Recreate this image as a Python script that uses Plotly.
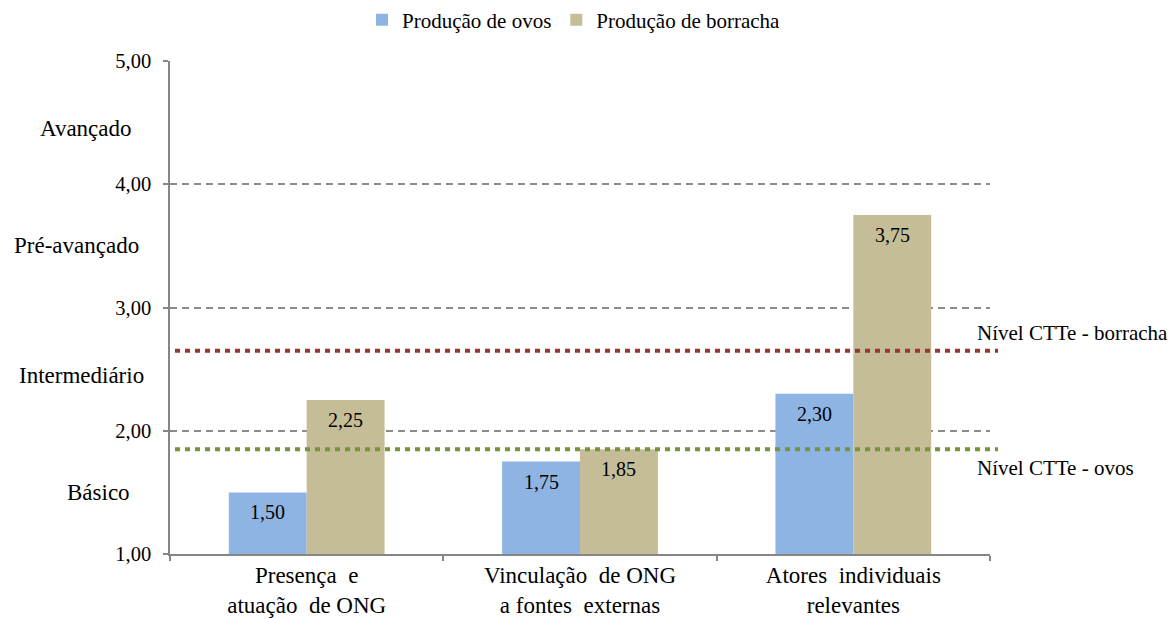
import plotly.graph_objects as go

# Dimensões avaliadas
NB = "\u00a0 "  # espaço duplo que não colapsa
categorias = [
    f"Presença{NB}e<br>atuação{NB}de ONG",
    f"Vinculação{NB}de ONG<br>a fontes{NB}externas",
    f"Atores{NB}individuais<br>relevantes",
]
ovos = [1.50, 1.75, 2.30]
borracha = [2.25, 1.85, 3.75]

# Níveis de referência CTTe
nivel_ovos = 1.85
nivel_borracha = 2.65

# Faixas qualitativas do eixo vertical
niveis_nomes = ["Avançado", "Pré-avançado", "Intermediário", "Básico"]
niveis_pos = [4.45, 3.50, 2.45, 1.50]

FONT = "Liberation Serif"
L, R, T, B = 170, 180, 61, 65
W, H = 1170, 619
PLOT_W = W - L - R
BARGAP = 0.43


def px_to_paper_x(px):
    return (px - L) / PLOT_W


fig = go.Figure()
fig.add_trace(go.Bar(
    name="Produção de ovos", x=categorias, y=ovos,
    marker=dict(color="#8EB4E3", line=dict(width=0)),
))
fig.add_trace(go.Bar(
    name="Produção de borracha", x=categorias, y=borracha,
    marker=dict(color="#C4BD97", line=dict(width=0)),
))

annotations = []

# Rótulos de valor dentro do topo de cada barra
meia = (1 - BARGAP) / 4
for serie, desloc in [(ovos, -meia), (borracha, meia)]:
    for i, v in enumerate(serie):
        annotations.append(dict(
            x=i + desloc, y=v, xref="x", yref="y", text=f"{v:.2f}".replace(".", ","),
            showarrow=False, yshift=-20, yanchor="middle", xanchor="center",
            font=dict(family=FONT, size=20, color="black")))

# Linhas pontilhadas dos níveis CTTe
for nivel, cor in [(nivel_borracha, "#953735"), (nivel_ovos, "#77933C")]:
    fig.add_shape(type="line", xref="paper", yref="y",
                  x0=px_to_paper_x(175), x1=px_to_paper_x(998),
                  y0=nivel, y1=nivel, layer="above",
                  line=dict(color=cor, width=4, dash="5px,5px"))

annotations.append(dict(text="Nível CTTe - borracha", xref="paper", yref="y",
                        x=px_to_paper_x(975), y=nivel_borracha, yshift=18,
                        xanchor="left", yanchor="middle", showarrow=False,
                        font=dict(family=FONT, size=21, color="black")))
annotations.append(dict(text="Nível CTTe - ovos", xref="paper", yref="y",
                        x=px_to_paper_x(975), y=nivel_ovos, yshift=-19,
                        xanchor="left", yanchor="middle", showarrow=False,
                        font=dict(family=FONT, size=21, color="black")))

centros_px = [86, 76, 81.5, 98.5]
for nome, pos, cx in zip(niveis_nomes, niveis_pos, centros_px):
    annotations.append(dict(text=nome, xref="paper", yref="y",
                            x=px_to_paper_x(cx), y=pos,
                            xanchor="center", yanchor="middle", showarrow=False,
                            font=dict(family=FONT, size=23, color="black")))

fig.update_layout(
    width=W, height=H,
    margin=dict(l=L, r=R, t=T, b=B, pad=0, autoexpand=False),
    paper_bgcolor="white", plot_bgcolor="white",
    separators=",.",
    barmode="group", bargap=BARGAP, bargroupgap=0,
    font=dict(family=FONT, size=20, color="black"),
    legend=dict(orientation="h", x=px_to_paper_x(362), xanchor="left",
                y=1 + (T - 20) / (H - T - B), yanchor="middle",
                font=dict(family=FONT, size=21, color="black"),
                bgcolor="rgba(0,0,0,0)"),
    annotations=annotations,
    xaxis=dict(
        showline=True, linecolor="#868686", linewidth=1.5,
        ticks="outside", tickson="boundaries", ticklen=5,
        tickcolor="#868686", tickwidth=1.5,
        showgrid=False, ticklabelstandoff=0,
        tickfont=dict(family=FONT, size=23, color="black"),
    ),
    yaxis=dict(
        range=[1, 5], dtick=1, tick0=1, tickformat=".2f",
        showline=True, linecolor="#868686", linewidth=1.5,
        ticks="outside", ticklen=5, tickcolor="#868686", tickwidth=1.5,
        showgrid=True, gridcolor="#8C8C8C", gridwidth=1.5, griddash="7px,5px",
        zeroline=False, ticklabelstandoff=8,
        tickfont=dict(family=FONT, size=20.5, color="black"),
    ),
)

fig.write_html("out.html")
